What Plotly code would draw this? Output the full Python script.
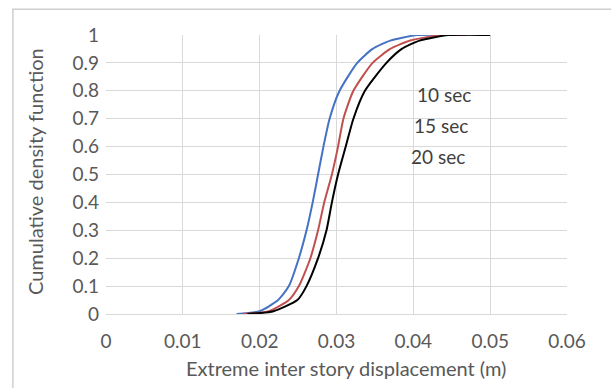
import plotly.graph_objects as go

# CDF curves (x: displacement in m, y: cumulative probability)
cdf_y = [0.0, 0.01, 0.05, 0.1, 0.2, 0.3, 0.4, 0.5, 0.6, 0.7, 0.8, 0.9, 0.95, 0.98, 1.0, 1.0]

x_10sec = [0.0170, 0.0200, 0.0224, 0.0238, 0.0251, 0.0261, 0.0269, 0.0276, 0.0283, 0.0291,
           0.0304, 0.0327, 0.0347, 0.0370, 0.0405, 0.0450]
x_15sec = [0.0178, 0.0212, 0.0238, 0.0251, 0.0266, 0.0276, 0.0284, 0.0294, 0.0302, 0.0309,
           0.0322, 0.0347, 0.0370, 0.0396, 0.0436, 0.0470]
x_20sec = [0.0184, 0.0218, 0.0249, 0.0261, 0.0276, 0.0287, 0.0294, 0.0302, 0.0312, 0.0322,
           0.0337, 0.0365, 0.0385, 0.0408, 0.0446, 0.0500]

series_names = ["10 sec", "15 sec", "20 sec"]
series_colors = ["#4472C4", "#C0504D", "#000000"]

x_ticks = [0, 0.01, 0.02, 0.03, 0.04, 0.05, 0.06]
x_tick_labels = ["0", "0.01", "0.02", "0.03", "0.04", "0.05", "0.06"]
y_ticks = [0, 0.1, 0.2, 0.3, 0.4, 0.5, 0.6, 0.7, 0.8, 0.9, 1]
y_tick_labels = ["0", "0.1", "0.2", "0.3", "0.4", "0.5", "0.6", "0.7", "0.8", "0.9", "1"]

label_x = [0.0440, 0.0436, 0.0432]
label_y = [0.785, 0.677, 0.566]

x_title = "Extreme inter story displacement (m)"
y_title = "Cumulative density function"

FONT = "Lato"
TXT = "#595959"

fig = go.Figure()
for xs, name, col in zip([x_10sec, x_15sec, x_20sec], series_names, series_colors):
    fig.add_trace(go.Scatter(x=xs, y=cdf_y, mode="lines", name=name,
                             line=dict(color=col, width=2, shape="spline", smoothing=0.6)))

for name, lx, ly in zip(series_names, label_x, label_y):
    fig.add_annotation(x=lx, y=ly, text=name, showarrow=False, xref="x", yref="y",
                       font=dict(family=FONT, size=19, color="#404040"))

# axis titles
fig.add_annotation(x=0.52, y=-0.194, xref="paper", yref="paper", text=x_title,
                   xanchor="center", yanchor="middle",
                   showarrow=False, font=dict(family=FONT, size=20, color=TXT))
fig.add_annotation(x=-0.154, y=0.509, xref="paper", yref="paper", text=y_title,
                   xanchor="center", yanchor="middle",
                   textangle=-90, showarrow=False, font=dict(family=FONT, size=20, color=TXT))

# outer chart frame (right/bottom edges fall just outside the canvas)
fig.add_shape(type="rect", xref="paper", yref="paper",
              x0=-0.202, y0=-0.27, x1=1.1, y1=1.092,
              line=dict(color="#CFCFCF", width=1.5), fillcolor="rgba(0,0,0,0)", layer="above")

fig.update_layout(
    width=611, height=388,
    margin=dict(l=106, r=44, t=35, b=74),
    paper_bgcolor="white", plot_bgcolor="white",
    showlegend=False,
    font=dict(family=FONT, size=19, color=TXT),
    xaxis=dict(range=[0, 0.06], tickvals=x_ticks, ticktext=x_tick_labels,
               showgrid=True, gridcolor="#D9D9D9", gridwidth=1,
               zeroline=False, showline=True, linecolor="#D9D9D9", linewidth=1,
               ticks="", ticklabelstandoff=10),
    yaxis=dict(range=[0, 1], tickvals=y_ticks, ticktext=y_tick_labels,
               showgrid=True, gridcolor="#D9D9D9", gridwidth=1,
               zeroline=False, showline=False, ticks="", ticklabelstandoff=6),
)

post = (
    "document.body.style.margin='0';"
    "document.body.style.overflow='hidden';"
)

fig.write_html("out.html", config={"displayModeBar": False}, post_script=post)
